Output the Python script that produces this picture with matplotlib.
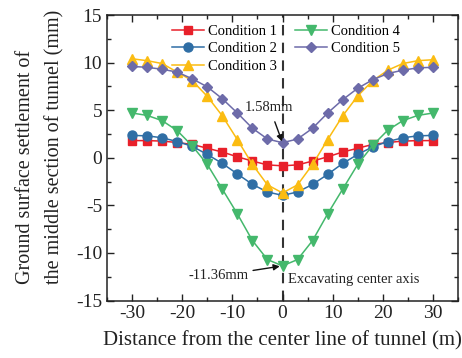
import matplotlib
matplotlib.use("Agg")
import matplotlib.pyplot as plt
from matplotlib.ticker import MultipleLocator

plt.rcParams['font.family'] = ['Liberation Serif', 'DejaVu Serif']
plt.rcParams['axes.unicode_minus'] = False

x = [-30, -27, -24, -21, -18, -15, -12, -9, -6, -3, 0, 3, 6, 9, 12, 15, 18, 21, 24, 27, 30]
cond1 = [1.8, 1.8, 1.75, 1.6, 1.4, 1.0, 0.6, 0.1, -0.35, -0.75, -0.85, -0.75, -0.35, 0.1, 0.6, 1.0, 1.4, 1.6, 1.75, 1.8, 1.8]
cond2 = [2.35, 2.3, 2.1, 1.7, 1.2, 0.35, -0.6, -1.7, -2.8, -3.6, -3.95, -3.6, -2.8, -1.75, -0.6, 0.35, 1.15, 1.7, 2.1, 2.3, 2.35]
cond3 = [10.4, 10.2, 9.9, 9.0, 8.1, 6.45, 4.4, 1.9, -0.7, -2.85, -3.7, -2.85, -0.7, 1.9, 4.4, 6.5, 8.1, 9.2, 9.9, 10.2, 10.3]
cond4 = [4.7, 4.45, 3.9, 2.85, 1.25, -0.7, -3.3, -5.9, -8.7, -10.7, -11.36, -10.7, -8.7, -5.9, -3.3, -0.7, 1.3, 2.9, 3.9, 4.45, 4.7]
cond5 = [9.6, 9.5, 9.3, 9.0, 8.3, 7.45, 6.2, 4.7, 3.1, 1.97, 1.58, 1.97, 3.1, 4.7, 6.1, 7.3, 8.2, 8.85, 9.2, 9.45, 9.5]

labels = ['Condition 1', 'Condition 2', 'Condition 3', 'Condition 4', 'Condition 5']
colors = ['#E8202A', '#2F6EA5', '#FBBC12', '#44B86C', '#6D6BA9']
markers = ['s', 'o', '^', 'v', 'D']
msizes = [5.5, 6.5, 7, 7, 5.5]

fig = plt.figure(figsize=(4.62, 3.58), dpi=100)
ax = fig.add_axes([107/462, 1-300.5/358, (458-107)/462, (300.5-15)/358])

for y, lab, c, m, ms in zip([cond1, cond2, cond3, cond4, cond5], labels, colors, markers, msizes):
    ax.plot(x, y, color=c, marker=m, markersize=ms, lw=1.1, label=lab)

ax.axvline(0, color='#333333', lw=1.5, ls=(0, (5, 3.5)), zorder=0.5)

ax.set_xlim(-35, 35)
ax.set_ylim(-15, 15)
ax.xaxis.set_major_locator(MultipleLocator(10))
ax.xaxis.set_minor_locator(MultipleLocator(5))
ax.yaxis.set_major_locator(MultipleLocator(5))
ax.yaxis.set_minor_locator(MultipleLocator(2.5))
ax.tick_params(which='both', direction='in', top=True, right=True, labelsize=14, colors='#222222', width=1)
ax.tick_params(which='major', length=5)
ax.tick_params(which='minor', length=3)
for s in ax.spines.values():
    s.set_linewidth(1.1)
    s.set_color('#222222')

ax.set_xlabel('Distance from the center line of tunnel (m)', fontsize=15, color='#222222', labelpad=6)
fig.text(40.5/462, 1-146.5/358, 'Ground surface settlement of\nthe middle section of tunnel (mm)', fontsize=14.5,
         color='#222222', rotation=90, ha='center', va='center', multialignment='left', linespacing=1.7)

ax.legend(ncol=2, loc='upper center', bbox_to_anchor=(0.51, 1.0), frameon=False, fontsize=10.5,
          handlelength=2.2, handletextpad=0.3, columnspacing=1.2, labelspacing=0.3, borderaxespad=0.25)

ax.annotate('1.58mm', xy=(0, 1.58), xytext=(-2.6, 5.3), fontsize=10.5, ha='center', va='center', color='#222222',
            arrowprops=dict(arrowstyle='-|>', color='#111111', lw=1, shrinkA=4, shrinkB=1, mutation_scale=9))
ax.annotate('-11.36mm', xy=(0, -11.36), xytext=(-6.7, -12.4), fontsize=10.5, ha='right', va='center', color='#222222',
            arrowprops=dict(arrowstyle='-|>', color='#111111', lw=1, shrinkA=1, shrinkB=2, mutation_scale=9))
ax.text(1.0, -12.8, 'Excavating center axis', fontsize=10.5, ha='left', va='center', color='#222222')

fig.savefig('out.png', dpi=100)
